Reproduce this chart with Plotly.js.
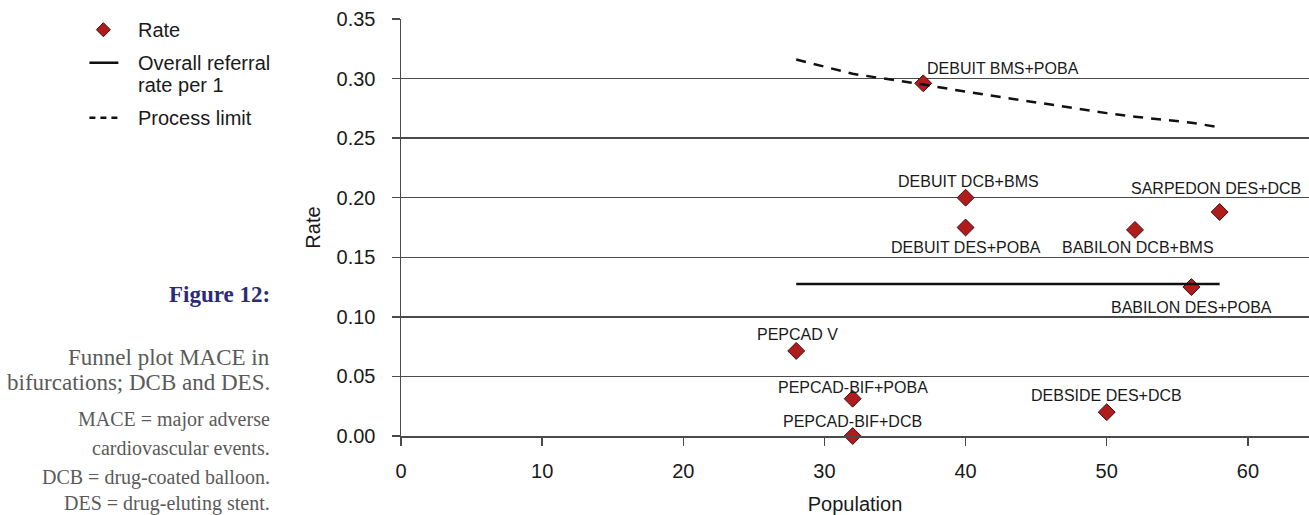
<!DOCTYPE html>
<html>
<head>
<meta charset="utf-8">
<script src="https://cdn.plot.ly/plotly-3.0.1.min.js"></script>
<style>
html,body{margin:0;padding:0;background:#fff;}
#chart{width:1309px;height:515px;}
</style>
</head>
<body>
<div id="chart"></div>
<script>
// ---- data ----
const studyNames = ["DEBUIT BMS+POBA","DEBUIT DCB+BMS","DEBUIT DES+POBA","BABILON DCB+BMS","SARPEDON DES+DCB","BABILON DES+POBA","PEPCAD V","PEPCAD-BIF+POBA","PEPCAD-BIF+DCB","DEBSIDE DES+DCB"];
const population = [37, 40, 40, 52, 58, 56, 28, 32, 32, 50];
const rate = [0.296, 0.200, 0.175, 0.173, 0.188, 0.125, 0.0714, 0.0313, 0.0, 0.020];

const overallX = [28, 58];
const overallY = [0.1275, 0.1275];

const limitX = [28, 32, 37, 40, 50, 52, 56, 58];
const limitY = [0.316, 0.304, 0.295, 0.289, 0.271, 0.268, 0.263, 0.259];

const yTicks = [0, 0.05, 0.10, 0.15, 0.20, 0.25, 0.30, 0.35];
const xTicks = [0, 10, 20, 30, 40, 50, 60];

const legendNames = ["Rate", "Overall referral", "rate per 1", "Process limit"];
const captionTitle = "Figure 12:";
const captionLines = ["Funnel plot MACE in","bifurcations; DCB and DES.","MACE = major adverse","cardiovascular events.","DCB = drug-coated balloon.","DES = drug-eluting stent."];

// ---- styling / placement ----
const labelShift = [[80,15],[3,16],[0,-20],[3,-18],[-4,24],[0,-20],[1,16],[0,11],[0,15],[0,17]];
const axisColor = "#4a4a4a";
const textColor = "#1a1a1a";
const markerColor = "#b01c1c";
const sans = "Liberation Sans, Arial, sans-serif";
const serif = "Liberation Serif, Times New Roman, serif";

const plotTop = 19.3, plotBottom = 436, plotLeft = 400.7, plotW = 1309 - 400.7;
const py = p => (plotBottom - p) / (plotBottom - plotTop);
const px = p => (p - plotLeft) / plotW;

const traces = [
  {x: population, y: rate, type: "scatter", mode: "markers", name: "Rate",
   marker: {symbol: "diamond", size: 13, color: markerColor, line: {color: "#3b1212", width: 1}},
   cliponaxis: false, hoverinfo: "skip", showlegend: false},
  {x: overallX, y: overallY, type: "scatter", mode: "lines", name: "Overall referral rate per 1",
   line: {color: "#111", width: 2.5}, hoverinfo: "skip", showlegend: false},
  {x: limitX, y: limitY, type: "scatter", mode: "lines", name: "Process limit",
   line: {color: "#111", width: 2.5, dash: "10px,8px"}, hoverinfo: "skip", showlegend: false}
];

const annotations = studyNames.map((n, i) => ({
  x: population[i], y: rate[i], xref: "x", yref: "y", text: n, showarrow: false,
  xshift: labelShift[i][0], yshift: labelShift[i][1],
  font: {family: sans, size: 16, color: textColor}
}));

// legend (drawn manually to follow the reference spacing)
const legTextX = 136, legY = [30, 63, 85, 118];
legendNames.forEach((t, i) => annotations.push({xref: "paper", yref: "paper", x: px(legTextX), y: py(legY[i]),
  xanchor: "left", yanchor: "middle", text: t, showarrow: false, font: {family: sans, size: 20, color: textColor}}));
const dx = 7, dy = 7, cx = 103, cy = legY[0];
const shapes = [
  {type: "path", xref: "paper", yref: "paper",
   path: `M${px(cx - dx)},${py(cy)} L${px(cx)},${py(cy - dy)} L${px(cx + dx)},${py(cy)} L${px(cx)},${py(cy + dy)} Z`,
   fillcolor: markerColor, line: {color: "#3b1212", width: 1}},
  {type: "line", xref: "paper", yref: "paper", x0: px(89), x1: px(118), y0: py(legY[1]), y1: py(legY[1]),
   line: {color: "#111", width: 2.5}},
  {type: "line", xref: "paper", yref: "paper", x0: px(89), x1: px(118), y0: py(legY[3]), y1: py(legY[3]),
   line: {color: "#111", width: 2.5, dash: "6px,5px"}}
];

// caption
annotations.push({xref: "paper", yref: "paper", x: px(272), y: py(295), xanchor: "right", yanchor: "middle",
  text: "<b>" + captionTitle + "</b>", showarrow: false, font: {family: serif, size: 23, color: "#2c2a7a"}});
const capY = [358, 383, 420, 448, 477, 503];
const capSize = [23, 23, 20, 20, 20, 20];
captionLines.forEach((t, i) => annotations.push({xref: "paper", yref: "paper", x: px(272), y: py(capY[i]),
  xanchor: "right", yanchor: "middle", text: t, showarrow: false,
  font: {family: serif, size: capSize[i], color: "#5a5a5a"}}));

const layout = {
  width: 1309, height: 515,
  margin: {l: 400.7, r: 0, t: 19.3, b: 79, pad: 0},
  paper_bgcolor: "#fff", plot_bgcolor: "#fff",
  font: {family: sans, color: textColor},
  showlegend: false,
  xaxis: {range: [0, 64.33], tickvals: xTicks, ticktext: xTicks.map(String), showgrid: false, zeroline: false,
    showline: true, linecolor: axisColor, linewidth: 1.5, ticks: "outside", ticklen: 8, tickcolor: axisColor, tickwidth: 1.5,
    ticklabelstandoff: 8,
    tickfont: {family: sans, size: 20, color: textColor},
    title: {text: "Population", font: {family: sans, size: 20, color: textColor}, standoff: 16}},
  yaxis: {range: [0, 0.35], tickvals: yTicks, ticktext: yTicks.map(v => v.toFixed(2)), showgrid: true, gridcolor: axisColor, gridwidth: 1.5,
    zeroline: false, showline: true, linecolor: axisColor, linewidth: 1.5, ticks: "outside", ticklen: 8, tickcolor: axisColor, tickwidth: 1.5,
    ticklabelstandoff: 12,
    tickfont: {family: sans, size: 20, color: textColor},
    title: {text: "Rate", font: {family: sans, size: 20, color: textColor}, standoff: 10}},
  annotations: annotations,
  shapes: shapes
};

Plotly.newPlot("chart", traces, layout, {staticPlot: true, displayModeBar: false});
</script>
</body>
</html>
